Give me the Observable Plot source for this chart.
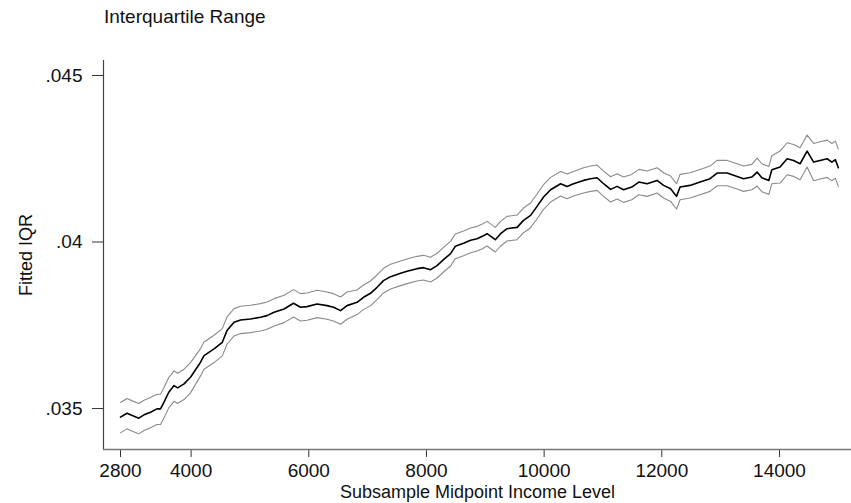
<!DOCTYPE html>
<html><head><meta charset="utf-8">
<script src="https://cdn.jsdelivr.net/npm/d3@7"></script>
<script src="https://cdn.jsdelivr.net/npm/@observablehq/plot@0.6"></script>
<style>
html,body{margin:0;padding:0;background:#fff;}
body{font-family:"Liberation Sans",Arial,Helvetica,sans-serif;width:851px;height:503px;overflow:hidden;}
#title{height:40px;box-sizing:border-box;padding-left:104px;padding-top:7px;font-size:19px;line-height:20px;color:#111;}
#chart svg{display:block;}
</style></head><body>
<div id="title">Interquartile Range</div>
<div id="chart"></div>
<script>
// Subsample midpoint income level (x)
const income = [2800,2910,3000,3110,3200,3310,3420,3480,3540,3620,3710,3770,3880,3990,
4160,4220,4390,4530,4610,4730,4840,5010,5180,5290,5410,5580,5740,5860,5970,6140,6310,6420,6540,6650,
6820,6930,7050,7160,7270,7390,7560,7670,7840,7950,8070,8180,8290,8410,8490,8630,8750,8860,8950,9030,
9170,9260,9370,9540,9650,9770,9880,9990,10110,10280,10390,10500,
10670,10790,10900,11010,11130,11240,11350,11490,11610,11750,11920,12030,12150,12250,12310,12480,12650,
12820,12940,13110,13280,13390,13530,13620,13700,13820,13870,14010,14130,14240,14350,14470,14580,14690,
14810,14890,14950,15000];
// Fitted IQR (black line)
const fitted = [.03474,.03486,.03479,.03471,.03481,.03489,.03499,.03499,.03519,.03549,.03569,.03562,.03574,.03594,
.03639,.03659,.03679,.03699,.03734,.03759,.03766,.03769,.03774,.03779,.03789,.03799,.03816,.03804,.03806,.03814,.03809,.03804,.03794,.03809,
.03819,.03834,.03846,.03864,.03884,.03896,.03906,.03912,.03920,.03923,.03917,.03929,.03947,.03965,.03987,.03996,.04005,.04010,.04017,.04025,
.04007,.04025,.04040,.04044,.04065,.04080,.04107,.04135,.04157,.04175,.04167,.04175,
.04185,.04190,.04193,.04175,.04158,.04167,.04157,.04165,.04180,.04175,.04185,.04170,.04160,.04137,.04165,.04170,.04180,
.04190,.04207,.04207,.04197,.04190,.04195,.04210,.04193,.04185,.04217,.04225,.04250,.04245,.04235,.04273,.04240,.04245,
.04250,.04240,.04247,.04223];
// Upper confidence band (grey)
const upper = [.03518,.03530,.03523,.03515,.03525,.03533,.03543,.03543,.03563,.03593,.03613,.03606,.03618,.03638,
.03680,.03700,.03720,.03740,.03775,.03800,.03807,.03810,.03815,.03820,.03830,.03840,.03857,.03845,.03847,.03855,.03850,.03845,.03835,.03850,
.03856,.03871,.03883,.03901,.03921,.03933,.03943,.03949,.03957,.03960,.03954,.03966,.03984,.04002,.04024,.04033,.04042,.04047,.04054,.04062,
.04044,.04062,.04077,.04081,.04102,.04117,.04144,.04172,.04194,.04212,.04204,.04212,
.04223,.04228,.04231,.04213,.04196,.04205,.04195,.04203,.04218,.04213,.04223,.04208,.04198,.04175,.04203,.04208,.04218,
.04228,.04245,.04245,.04235,.04228,.04233,.04252,.04235,.04227,.04259,.04273,.04298,.04293,.04283,.04321,.04296,.04301,
.04306,.04296,.04303,.04279];
// Lower confidence band (grey)
const lower = [.03427,.03439,.03432,.03424,.03434,.03442,.03452,.03452,.03472,.03502,.03522,.03515,.03527,.03547,
.03598,.03618,.03638,.03658,.03693,.03718,.03725,.03728,.03733,.03738,.03748,.03758,.03775,.03763,.03765,.03773,.03768,.03763,.03753,.03768,
.03782,.03797,.03809,.03827,.03847,.03859,.03869,.03875,.03883,.03886,.03880,.03892,.03910,.03928,.03950,.03959,.03968,.03973,.03980,.03988,
.03970,.03988,.04003,.04007,.04028,.04043,.04070,.04098,.04120,.04138,.04130,.04138,
.04147,.04152,.04155,.04137,.04120,.04129,.04119,.04127,.04142,.04137,.04147,.04132,.04122,.04099,.04127,.04132,.04142,
.04152,.04169,.04169,.04159,.04152,.04157,.04168,.04151,.04143,.04175,.04177,.04202,.04197,.04187,.04225,.04184,.04189,
.04194,.04184,.04191,.04167];
const xTicks = [2800,4000,6000,8000,10000,12000,14000];
const yTicks = [0.035,0.04,0.045];
const xTitle = "Subsample Midpoint Income Level";
const yTitle = "Fitted IQR";

const rows = income.map((x, i) => ({x, fit: fitted[i], up: upper[i], lo: lower[i]}));
const yFmt = d => d3.format(".3~f")(d).replace(/^0/, "");
const xDomain = [2511, 15224];
const yDomain = [0.03377, 0.04545];

const chart = Plot.plot({
  width: 851, height: 463,
  marginLeft: 103, marginRight: 0, marginTop: 20, marginBottom: 54,
  style: {fontFamily: "'Liberation Sans', Arial, sans-serif", fontSize: "19px", background: "#fff", color: "#111"},
  x: {domain: xDomain},
  y: {domain: yDomain},
  marks: [
    Plot.axisX({ticks: xTicks, tickFormat: d => String(d), tickSize: 8, tickPadding: 6, fontSize: 19, label: null, stroke: "#333"}),
    Plot.axisY({ticks: yTicks, tickFormat: yFmt, tickSize: 11, tickPadding: 10, fontSize: 19, label: null, stroke: "#333"}),
    Plot.ruleX([xDomain[0]], {stroke: "#444", strokeWidth: 1.2}),
    Plot.ruleY([yDomain[0]], {stroke: "#777", strokeWidth: 1.5}),
    Plot.line(rows, {x: "x", y: "up", stroke: "#8a8a8a", strokeWidth: 1.1}),
    Plot.line(rows, {x: "x", y: "lo", stroke: "#8a8a8a", strokeWidth: 1.1}),
    Plot.line(rows, {x: "x", y: "fit", stroke: "#000", strokeWidth: 1.6}),
    Plot.text([xTitle], {frameAnchor: "bottom", dy: 36, lineAnchor: "top", fontSize: 18, fill: "#111"}),
    Plot.text([yTitle], {frameAnchor: "left", dx: -77, rotate: -90, textAnchor: "middle", lineAnchor: "middle", fontSize: 18, fill: "#111"})
  ]
});
document.getElementById("chart").appendChild(chart);
</script>
</body></html>
